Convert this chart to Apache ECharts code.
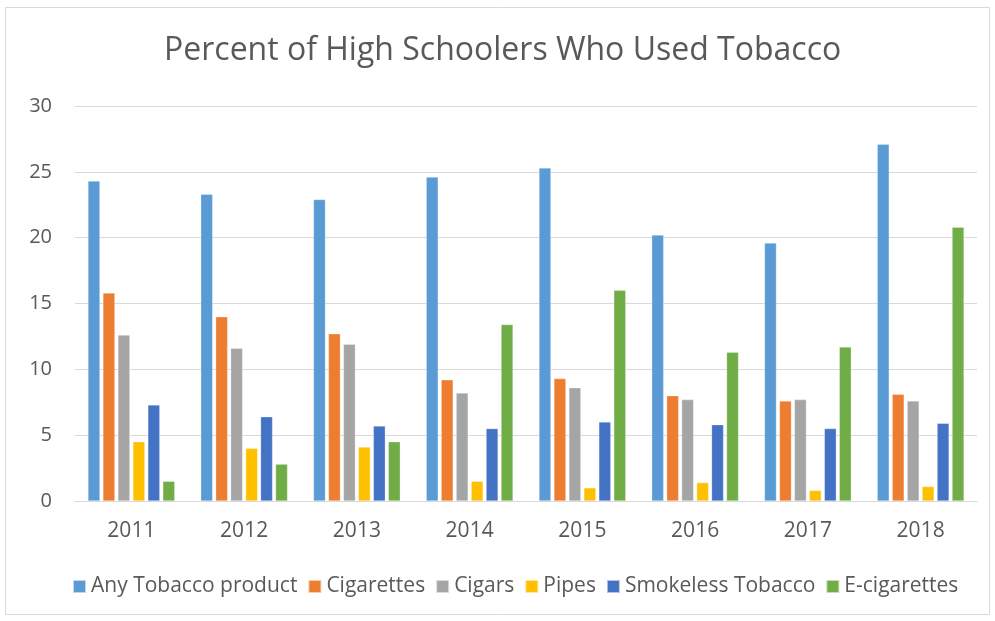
<!DOCTYPE html>
<html>
<head>
<meta charset="utf-8">
<script src="https://cdn.jsdelivr.net/npm/echarts@6/dist/echarts.min.js"></script>
<style>
  html, body { margin: 0; padding: 0; background: #ffffff; }
  #chart { width: 995px; height: 621px; }
</style>
</head>
<body>
<div id="chart"></div>
<script>
// Survey years
const years = ['2011', '2012', '2013', '2014', '2015', '2016', '2017', '2018'];

// Percent of high school students reporting use, by product
const anyTobacco = [24.3, 23.3, 22.9, 24.6, 25.3, 20.2, 19.6, 27.1];
const cigarettes = [15.8, 14.0, 12.7, 9.2, 9.3, 8.0, 7.6, 8.1];
const cigars = [12.6, 11.6, 11.9, 8.2, 8.6, 7.7, 7.7, 7.6];
const pipes = [4.5, 4.0, 4.1, 1.5, 1.0, 1.4, 0.8, 1.1];
const smokeless = [7.3, 6.4, 5.7, 5.5, 6.0, 5.8, 5.5, 5.9];
const eCigarettes = [1.5, 2.8, 4.5, 13.4, 16.0, 11.3, 11.7, 20.8];

const seriesNames = ['Any Tobacco product', 'Cigarettes', 'Cigars', 'Pipes', 'Smokeless Tobacco', 'E-cigarettes'];
const seriesData = [anyTobacco, cigarettes, cigars, pipes, smokeless, eCigarettes];
const palette = ['#5B9BD5', '#ED7D31', '#A5A5A5', '#FFC000', '#4472C4', '#70AD47'];

const FONT = '"Open Sans", Lato, sans-serif';
const TEXT = '#595959';

const chart = echarts.init(document.getElementById('chart'), null, { renderer: 'canvas' });

chart.setOption({
  animation: false,
  backgroundColor: '#ffffff',
  color: palette,
  graphic: [{
    type: 'rect',
    shape: { x: 5.5, y: 7.5, width: 984, height: 607 },
    style: { fill: 'none', stroke: '#d9d9d9', lineWidth: 1 },
    silent: true,
    z: -1
  }],
  title: {
    text: 'Percent of High Schoolers Who Used Tobacco',
    left: 164,
    top: 35,
    padding: 0,
    textStyle: { fontFamily: FONT, fontSize: 32, fontWeight: 'normal', color: TEXT }
  },
  legend: {
    top: 576,
    left: 72,
    padding: 0,
    itemWidth: 13,
    itemHeight: 13,
    itemGap: 10,
    icon: 'rect',
    textStyle: { fontFamily: FONT, fontSize: 21, color: TEXT },
    data: seriesNames
  },
  grid: { left: 75, right: 18, top: 106, bottom: 120, containLabel: false },
  xAxis: {
    type: 'category',
    data: years,
    axisTick: { show: false },
    axisLine: { lineStyle: { color: '#d9d9d9', width: 1 } },
    axisLabel: { fontFamily: FONT, fontSize: 21, color: TEXT, margin: 20 }
  },
  yAxis: {
    type: 'value',
    min: 0,
    max: 30,
    interval: 5,
    axisLine: { show: false },
    axisTick: { show: false },
    splitLine: { lineStyle: { color: '#d9d9d9', width: 1 } },
    axisLabel: { fontFamily: FONT, fontSize: 20, color: TEXT, margin: 23 }
  },
  series: seriesData.map((d, i) => ({
    name: seriesNames[i],
    type: 'bar',
    data: d,
    barGap: '25%',
    barCategoryGap: '23%',
    itemStyle: { color: palette[i], borderColor: 'rgba(255,255,255,0.6)', borderWidth: 0.5 }
  }))
});
</script>
</body>
</html>
